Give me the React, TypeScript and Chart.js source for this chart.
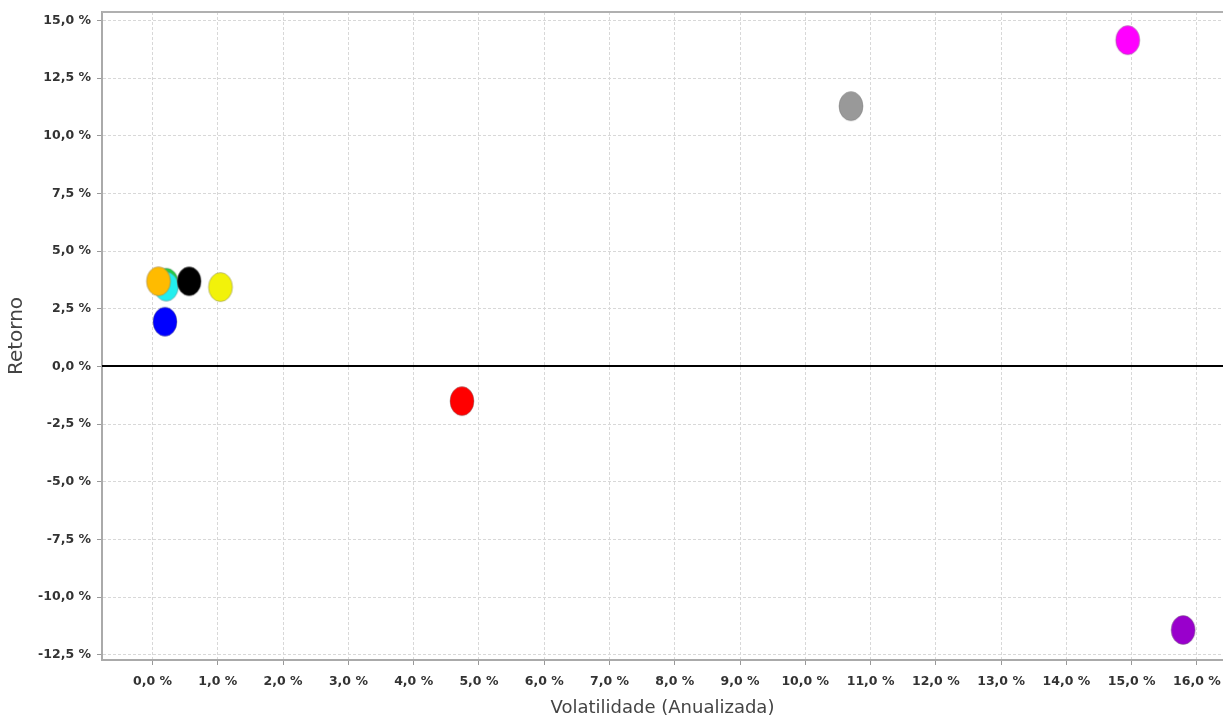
import React, { useEffect, useRef } from "react";
import { Chart, registerables } from "chart.js";

Chart.register(...registerables);

const assetNames = ["Verde", "Ciano", "Laranja", "Preto", "Amarelo", "Azul", "Vermelho", "Cinza", "Magenta", "Roxo"];
const assetColors = ["#22cc44", "#22eeee", "#ffbb00", "#000000", "#f2f20a", "#0000ff", "#ff0000", "#999999", "#ff00ff", "#9900cc"];
const volatility = [0.21, 0.21, 0.09, 0.56, 1.04, 0.19, 4.74, 10.70, 14.94, 15.79];
const returns = [3.63, 3.46, 3.69, 3.69, 3.44, 1.94, -1.50, 11.28, 14.14, -11.42];

const xTicks = [0, 1, 2, 3, 4, 5, 6, 7, 8, 9, 10, 11, 12, 13, 14, 15, 16];
const yTicks = [-12.5, -10, -7.5, -5, -2.5, 0, 2.5, 5, 7.5, 10, 12.5, 15];

const xMin = -0.775;
const xMax = 16.4;
const yMin = -12.72;
const yMax = 15.36;

const fmt = (v: number) => v.toFixed(1).replace(".", ",") + " %";

function makeEllipse(color: string): HTMLCanvasElement {
  const c = document.createElement("canvas");
  c.width = 32;
  c.height = 36;
  const ctx = c.getContext("2d")!;
  ctx.filter = "blur(0.6px)";
  ctx.beginPath();
  ctx.ellipse(16, 18, 12, 14.5, 0, 0, Math.PI * 2);
  ctx.fillStyle = color;
  ctx.fill();
  ctx.lineWidth = 1;
  ctx.strokeStyle = "rgba(120,120,120,0.45)";
  ctx.stroke();
  return c;
}

const linesPlugin = {
  id: "linesPlugin",
  beforeDatasetsDraw(chart: any) {
    const { ctx, chartArea, scales } = chart;
    const y0 = scales.y.getPixelForValue(0);
    ctx.save();
    ctx.strokeStyle = "#000";
    ctx.lineWidth = 2;
    ctx.beginPath();
    ctx.moveTo(chartArea.left, Math.round(y0));
    ctx.lineTo(chartArea.right, Math.round(y0));
    ctx.stroke();
    ctx.strokeStyle = "#b0b0b0";
    ctx.lineWidth = 2;
    ctx.beginPath();
    ctx.moveTo(chartArea.left, chartArea.top);
    ctx.lineTo(chartArea.right, chartArea.top);
    ctx.stroke();
    ctx.restore();
  },
};

export default function App() {
  const ref = useRef<HTMLCanvasElement | null>(null);

  useEffect(() => {
    if (!ref.current) return;
    const images = assetColors.map(makeEllipse);
    const chart = new Chart(ref.current, {
      type: "scatter",
      data: {
        datasets: [
          {
            label: "Ativos",
            data: volatility.map((v, i) => ({ x: v, y: returns[i] })),
            pointStyle: images as any,
            pointRadius: 12,
            pointBackgroundColor: assetColors,
            pointBorderWidth: 0,
          },
        ],
      },
      options: {
        animation: false,
        responsive: false,
        layout: { autoPadding: false, padding: { top: 12, left: 0, right: 0, bottom: 0 } },
        plugins: { legend: { display: false }, tooltip: { enabled: false } },
        scales: {
          x: {
            type: "linear",
            min: xMin,
            max: xMax,
            afterBuildTicks: (s: any) => {
              s.ticks = xTicks.map((v) => ({ value: v }));
            },
            afterFit: (s: any) => {
              s.height = 59;
              s.paddingLeft = 0;
              s.paddingRight = 0;
            },
            ticks: {
              callback: (v: any) => fmt(Number(v)),
              font: { family: "DejaVu Sans", size: 12.5, weight: "bold" },
              color: "#333",
              padding: 9,
              maxRotation: 0,
              autoSkip: false,
            },
            grid: {
              color: "#d8d8d8",
              lineWidth: 1,
              tickLength: 5,
              tickColor: "#999",
              tickWidth: 1,
              tickBorderDash: [],
            },
            border: { display: true, color: "#aaaaaa", width: 2, dash: [3, 2] },
            title: {
              display: true,
              text: "Volatilidade (Anualizada)",
              font: { family: "DejaVu Sans", size: 18 },
              color: "#444",
              padding: { top: 0, bottom: 0 },
            },
          },
          y: {
            type: "linear",
            min: yMin,
            max: yMax,
            afterBuildTicks: (s: any) => {
              s.ticks = yTicks.map((v) => ({ value: v }));
            },
            afterFit: (s: any) => {
              s.width = 102;
              s.paddingTop = 0;
              s.paddingBottom = 0;
            },
            ticks: {
              callback: (v: any) => fmt(Number(v)),
              font: { family: "DejaVu Sans", size: 12.5, weight: "bold" },
              color: "#333",
              padding: 6,
              autoSkip: false,
            },
            grid: {
              color: "#d8d8d8",
              lineWidth: 1,
              tickLength: 5,
              tickColor: "#999",
              tickWidth: 1,
              tickBorderDash: [],
            },
            border: { display: true, color: "#aaaaaa", width: 2, dash: [3, 2] },
            title: {
              display: true,
              text: "Retorno",
              font: { family: "DejaVu Sans", size: 20 },
              color: "#444",
              padding: { top: 5, bottom: 0 },
            },
          },
        },
      },
      plugins: [linesPlugin],
    });
    return () => chart.destroy();
  }, []);

  return (
    <div style={{ position: "absolute", left: 0, top: 0, width: 1223, height: 719, background: "#fff" }}>
      <canvas ref={ref} width={1223} height={719} style={{ width: 1223, height: 719, display: "block" }} />
    </div>
  );
}
